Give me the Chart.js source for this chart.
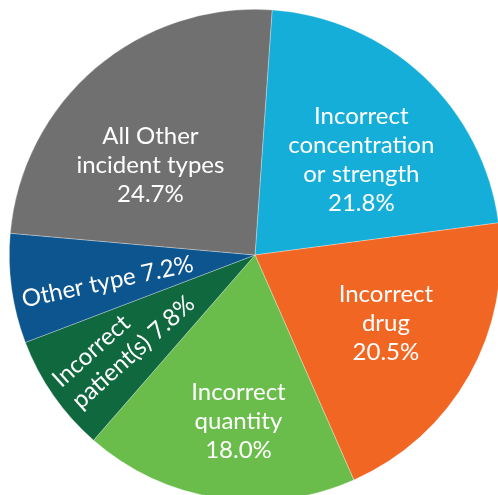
<!DOCTYPE html>
<html>
<head>
    <title>Incident types</title>
    <script src="https://cdn.jsdelivr.net/npm/chart.js"></script>
    <style>
        body {
            margin: 0;
            padding: 0;
            background: #ffffff;
            overflow: hidden;
        }
        .chart-container {
            position: absolute;
            left: 0;
            top: 0;
            width: 510px;
            height: 510px;
        }
    </style>
</head>
<body>
    <div class="chart-container">
        <canvas id="incidentChart"></canvas>
    </div>

    <script>
        // chart data
        const categories = [
            'Incorrect concentration or strength',
            'Incorrect drug',
            'Incorrect quantity',
            'Incorrect patient(s)',
            'Other type',
            'All Other incident types'
        ];
        const percentages = [21.8, 20.5, 18.0, 7.8, 7.2, 24.7];
        const labelLines = [
            ['Incorrect', 'concentration', 'or strength', '21.8%'],
            ['Incorrect', 'drug', '20.5%'],
            ['Incorrect', 'quantity', '18.0%'],
            ['Incorrect', 'patient(s) 7.8%'],
            ['Other type 7.2%'],
            ['All Other', 'incident types', '24.7%']
        ];
        const sliceColors = ['#15aed8', '#f26624', '#6abd4b', '#10693e', '#0d558f', '#6f706f'];

        // where each label sits: distance as fraction of radius, angle nudge (deg), text rotation (deg)
        const labelPlacement = [
            { dist: 0.58, nudge: 5, rotate: 0, align: 'center' },
            { dist: 0.60, nudge: -2, rotate: 0, align: 'center' },
            { dist: 0.68, nudge: -3, rotate: 0, align: 'center' },
            { dist: 0.64, nudge: 1.5, rotate: -42, align: 'left' },
            { dist: 0.61, nudge: -2.4, rotate: -12, align: 'center' },
            { dist: 0.56, nudge: -9, rotate: 0, align: 'center' }
        ];

        const sliceLabels = {
            id: 'sliceLabels',
            afterDatasetsDraw(chart) {
                const ctx = chart.ctx;
                const meta = chart.getDatasetMeta(0);
                const lineHeight = 29;
                ctx.save();
                ctx.fillStyle = '#ffffff';
                ctx.font = '24px Lato, "Open Sans", sans-serif';
                ctx.textBaseline = 'middle';
                meta.data.forEach((arc, i) => {
                    const p = labelPlacement[i];
                    const mid = (arc.startAngle + arc.endAngle) / 2 + p.nudge * Math.PI / 180;
                    const x = arc.x + Math.cos(mid) * arc.outerRadius * p.dist;
                    const y = arc.y + Math.sin(mid) * arc.outerRadius * p.dist;
                    const lines = labelLines[i];
                    ctx.save();
                    ctx.translate(x, y);
                    ctx.rotate(p.rotate * Math.PI / 180);
                    let startX = 0;
                    if (p.align === 'left') {
                        const w = Math.max(...lines.map(l => ctx.measureText(l).width));
                        startX = -w / 2;
                        ctx.textAlign = 'left';
                    } else {
                        ctx.textAlign = 'center';
                    }
                    lines.forEach((line, j) => {
                        const ly = (j - (lines.length - 1) / 2) * lineHeight;
                        ctx.fillText(line, startX, ly);
                    });
                    ctx.restore();
                });
                ctx.restore();
            }
        };

        const ctx = document.getElementById('incidentChart').getContext('2d');

        new Chart(ctx, {
            type: 'pie',
            data: {
                labels: categories,
                datasets: [{
                    data: percentages,
                    backgroundColor: sliceColors,
                    borderColor: 'rgba(255,255,255,0.5)',
                    borderWidth: 0.6
                }]
            },
            options: {
                responsive: true,
                maintainAspectRatio: false,
                animation: false,
                rotation: 4,
                layout: { padding: 9 },
                plugins: {
                    legend: { display: false },
                    tooltip: { enabled: false }
                }
            },
            plugins: [sliceLabels]
        });
    </script>
</body>
</html>
